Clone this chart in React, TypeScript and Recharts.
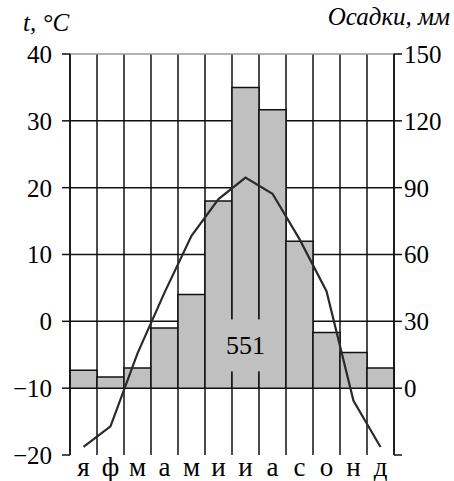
import { ComposedChart, Bar, Line, XAxis, YAxis, CartesianGrid, ReferenceLine, ReferenceDot } from "recharts";

const months = ["я", "ф", "м", "а", "м", "и", "и", "а", "с", "о", "н", "д"];
const precipitation = [8, 5, 9, 27, 42, 84, 135, 125, 66, 25, 16, 9];
const temperature = [-18.8, -15.7, -4.8, 4.3, 12.8, 18.3, 21.5, 19.1, 12.3, 4.5, -11.9, -18.8];
const tempTicks = [-20, -10, 0, 10, 20, 30, 40];
const precipTicks = [-30, 0, 30, 60, 90, 120, 150];
const annualTotal = "551";

const data = months.map((m, i) => ({ i, m, precip: precipitation[i], temp: temperature[i] }));

const font = "Liberation Serif";
const tickStyle = { fill: "#000", fontSize: 25, style: { fontFamily: font } };
const monthStyle = { fill: "#000", fontSize: 27, style: { fontFamily: font } };

const fmtTemp = (v: number) => (v < 0 ? "\u2212" + Math.abs(v) : String(v));

function TotalBox(props: any) {
  const { cx, cy } = props;
  return (
    <g>
      <rect x={cx - 20} y={cy - 26} width={40} height={52} fill="#c0c0c0" />
      <text x={cx} y={cy + 9} textAnchor="middle" fontSize={26} style={{ fontFamily: font }} fill="#000">
        {annualTotal}
      </text>
    </g>
  );
}

export default function App() {
  return (
    <div style={{ position: "absolute", left: 0, top: 0, width: 454, height: 481, background: "#fff", fontFamily: font }}>
      <div style={{ position: "absolute", left: 23, top: 9, fontStyle: "italic", fontSize: 25 }}>
        t, °C
      </div>
      <div style={{ position: "absolute", right: 4, top: 3, fontStyle: "italic", fontSize: 25 }}>
        Осадки, мм
      </div>
      <ComposedChart
        width={454}
        height={481}
        data={data}
        margin={{ top: 54, right: 0, left: 8, bottom: 0 }}
        barCategoryGap={0}
        barGap={0}
        style={{ fontFamily: font }}
      >
        <CartesianGrid
          stroke="#111"
          strokeWidth={1.5}
          verticalCoordinatesGenerator={({ offset }: any) =>
            Array.from({ length: months.length + 1 }, (_, k) => offset.left + (k * offset.width) / months.length)
          }
          horizontalCoordinatesGenerator={({ offset }: any) =>
            tempTicks.slice(1, -1).map((_, k) => offset.top + ((k + 1) * offset.height) / (tempTicks.length - 1))
          }
        />
        <ReferenceLine yAxisId="t" y={40} stroke="#999" strokeWidth={1.3} />
        <XAxis
          dataKey="i"
          type="category"
          tickFormatter={(i: number) => months[i]}
          axisLine={false}
          tickLine={false}
          tickSize={1}
          tickMargin={1}
          height={26}
          interval={0}
          tick={monthStyle}
        />
        <YAxis
          yAxisId="t"
          orientation="left"
          domain={[-20, 40]}
          ticks={tempTicks}
          tickFormatter={fmtTemp}
          width={62}
          tickSize={8}
          tickMargin={10}
          axisLine={{ stroke: "#111", strokeWidth: 1.5 }}
          tickLine={{ stroke: "#111", strokeWidth: 1.5 }}
          tick={tickStyle}
        />
        <YAxis
          yAxisId="p"
          orientation="right"
          domain={[-30, 150]}
          ticks={precipTicks}
          tickFormatter={(v: number) => (v < 0 ? "" : String(v))}
          width={60}
          tickSize={8}
          tickMargin={2}
          axisLine={{ stroke: "#111", strokeWidth: 1.5 }}
          tickLine={{ stroke: "#111", strokeWidth: 1.5 }}
          tick={tickStyle}
        />
        <Bar yAxisId="p" dataKey="precip" fill="#c0c0c0" stroke="#111" strokeWidth={1.5} isAnimationActive={false} />
        <Line
          yAxisId="t"
          dataKey="temp"
          type="linear"
          stroke="#2a2a2a"
          strokeWidth={2.2}
          dot={false}
          isAnimationActive={false}
        />
        <ReferenceDot yAxisId="t" x={6} y={-3.6} r={0} shape={TotalBox} />
      </ComposedChart>
    </div>
  );
}
